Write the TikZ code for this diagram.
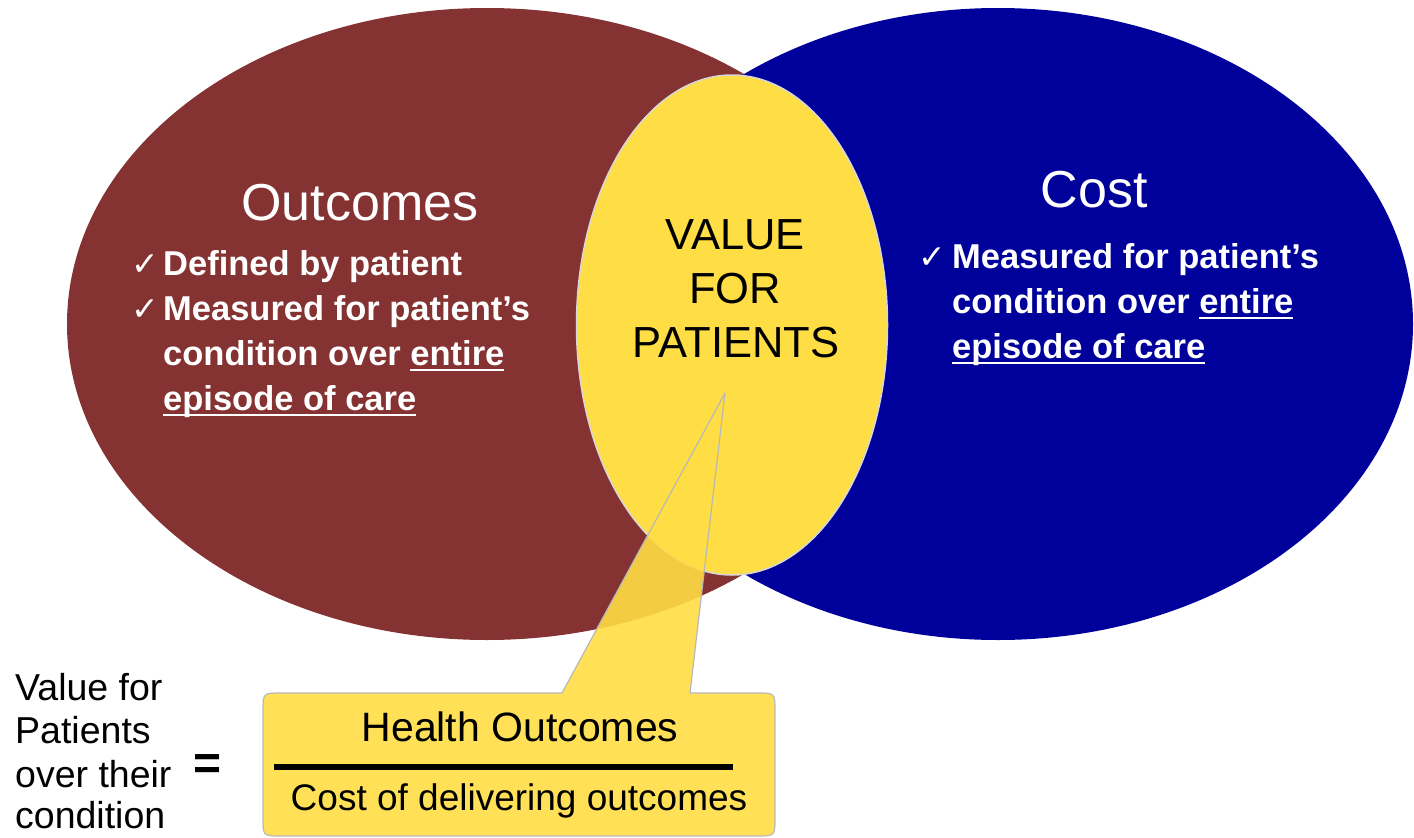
\documentclass[tikz,border=0pt]{standalone}
\usepackage{fontspec}
\setmainfont{Liberation Sans}
\newfontfamily\symfont{DejaVu Sans}
\usetikzlibrary{shapes.geometric}
\definecolor{vred}{RGB}{133,50,50}
\definecolor{vblue}{RGB}{0,0,155}
\definecolor{vyellow}{RGB}{255,221,68}
\definecolor{vedge}{RGB}{215,215,215}
\definecolor{cedge}{RGB}{185,185,185}
\newcommand{\myul}[1]{\setbox0\hbox{#1}\rlap{\rule[-6pt]{\wd0}{1.8pt}}\box0}
\begin{document}
\begin{tikzpicture}[x=1pt,y=-1pt,
  blob/.style={ellipse, inner sep=0pt, draw=none},
  titletext/.style={text=white, font=\fontsize{52}{60}\selectfont, anchor=base, inner sep=0pt},
  bul/.style={text=white, font=\fontsize{34.5}{45}\selectfont\bfseries, anchor=base west, inner sep=0pt},
  chk/.style={text=white, font=\symfont\fontsize{33}{36}\selectfont, anchor=base west, inner sep=0pt},
  valtext/.style={text=black, font=\fontsize{43.5}{50}\selectfont, anchor=base, inner sep=0pt},
  blacktext/.style={text=black, font=\fontsize{37.5}{44}\selectfont, inner sep=0pt}]
\useasboundingbox (0,0) rectangle (1414,838);
% ellipses
\node[blob, fill=vred, minimum width=840pt, minimum height=632pt] (outc) at (487,324) {};
\node[blob, fill=vblue, minimum width=830pt, minimum height=632pt] (cost) at (998,324) {};
\node[blob, fill=vyellow, draw=vedge, line width=1.5pt, minimum width=311pt, minimum height=500pt] (val) at (732,325) {};
% titles
\node[titletext] (ot) at (360,220) {Outcomes};
\node[titletext] (ct) at (1094,207) {Cost};
% left bullets
\node[chk] (lc1) at (131,275) {✓};
\node[bul] (l1) at (163,275) {Defined by patient};
\node[chk] (lc2) at (131,320) {✓};
\node[bul] (l2) at (163,320) {Measured for patient’s};
\node[bul] (l3) at (163,365) {condition over \myul{entire}};
\node[bul] (l4) at (163,410) {\myul{episode of care}};
% right bullets
\node[chk] (rc1) at (918,268) {✓};
\node[bul] (r1) at (952,268) {Measured for patient’s};
\node[bul] (r2) at (952,313) {condition over \myul{entire}};
\node[bul] (r3) at (952,358) {\myul{episode of care}};
% value text
\node[valtext] (v1) at (735,249) {VALUE};
\node[valtext] (v2) at (735,303) {FOR};
\node[valtext] (v3) at (736,357) {PATIENTS};
% callout
\coordinate (tip) at (725,393);
\fill[vyellow, fill opacity=0.9]
  (562,693) -- (tip) -- (690,693) -- (757,693) .. controls (775,693) .. (775,711)
  -- (775,818) .. controls (775,836) .. (757,836) -- (281,836)
  .. controls (263,836) .. (263,818) -- (263,711) .. controls (263,693) .. (281,693) -- cycle;
\draw[cedge, line width=1.2pt, line join=round]
  (562,693) -- (tip) -- (690,693) -- (757,693) .. controls (775,693) .. (775,711)
  -- (775,818) .. controls (775,836) .. (757,836) -- (281,836)
  .. controls (263,836) .. (263,818) -- (263,711) .. controls (263,693) .. (281,693) -- cycle;
\node[blacktext, font=\fontsize{41}{48}\selectfont, anchor=base] (num) at (520,741) {Health Outcomes};
\coordinate (fl) at (274,767);
\coordinate (fr) at (733,767);
\draw[black, line width=6pt] (fl) -- (fr);
\node[blacktext, font=\fontsize{37}{44}\selectfont, anchor=base] (den) at (519,810) {Cost of delivering outcomes};
% left formula
\node[blacktext, anchor=base west] (f1) at (15,700) {Value for};
\node[blacktext, anchor=base west] (f2) at (15,743) {Patients};
\node[blacktext, anchor=base west] (f3) at (15,787) {over their};
\node[blacktext, anchor=base west] (f4) at (15,828) {condition};
\node[blacktext, font=\fontsize{48}{50}\selectfont\bfseries, anchor=base] (eq) at (208,779) {=};
\end{tikzpicture}
\end{document}
